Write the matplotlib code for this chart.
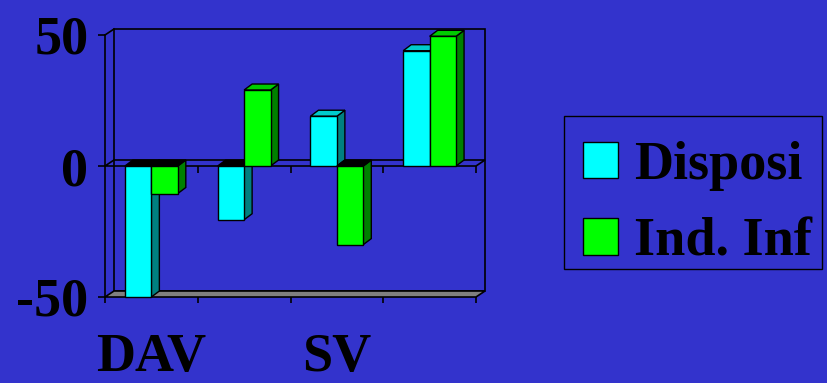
import matplotlib.pyplot as plt
from matplotlib.patches import Polygon, Patch, Rectangle

# data
categories = ['DAV', '', 'SV', '']
series_names = ['Disposi', 'Ind. Inf']
disposi = [-50, -20.5, 19, 44]
ind_inf = [-10.5, 29, -30, 49.5]
yticks = [-50, 0, 50]

bg = '#3333CC'
face_cols = ['#00FFFF', '#00FF00']
side_cols = ['#008080', '#008000']
top_cols = ['#00CCCC', '#00CC00']

plt.rcParams['font.family'] = ['Liberation Serif', 'DejaVu Serif']
plt.rcParams['font.weight'] = 'bold'
plt.rcParams['font.size'] = 39

W, H = 827, 383
fig = plt.figure(figsize=(W / 100, H / 100), dpi=100, facecolor=bg)
ax = fig.add_axes([105 / W, 86 / H, 371 / W, 262 / H])
ax.set_facecolor('none')
n = len(categories)
ax.set_xlim(0, n)
ax.set_ylim(-50, 50)
for s in ax.spines.values():
    s.set_visible(False)

# pixel -> data units, for the fake depth
px_x = n / 371
px_y = 100 / 262
wdx, wdy = 9 * px_x, 6 * px_y
bdx, bdy = 8 * px_x, 6 * px_y
lw = 1.2

# walls, floor and zero plane
ax.add_patch(Polygon([(wdx, -50 + wdy), (n + wdx, -50 + wdy), (n + wdx, 50 + wdy), (wdx, 50 + wdy)],
                     closed=True, fill=False, edgecolor='black', lw=lw, clip_on=False, zorder=1))
ax.add_patch(Polygon([(0, -50), (n, -50), (n + wdx, -50 + wdy), (wdx, -50 + wdy)],
                     closed=True, facecolor='#808080', edgecolor='black', lw=lw, clip_on=False, zorder=1))
ax.add_patch(Polygon([(0, 0), (n, 0), (n + wdx, wdy), (wdx, wdy)],
                     closed=True, fill=False, edgecolor='black', lw=lw, clip_on=False, zorder=1))
ax.plot([0, 0], [-50, 50], color='black', lw=lw, clip_on=False, zorder=1)
ax.plot([0, wdx], [50, 50 + wdy], color='black', lw=lw, clip_on=False, zorder=1)
ax.vlines(range(1, n + 1), -7 * px_y, 0, color='black', lw=lw, clip_on=False, zorder=1)

# 3D-ish bars
bw = 0.285
z = 2
for i in range(n):
    for j, vals in enumerate([disposi, ind_inf]):
        v = vals[i]
        x0 = i + 0.5 - bw + j * bw
        ax.add_patch(Polygon([(x0 + bw, 0), (x0 + bw, v), (x0 + bw + bdx, v + bdy), (x0 + bw + bdx, bdy)],
                             closed=True, facecolor=side_cols[j], edgecolor='black', lw=1,
                             clip_on=False, zorder=z))
        t = max(v, 0)
        ax.add_patch(Polygon([(x0, t), (x0 + bw, t), (x0 + bw + bdx, t + bdy), (x0 + bdx, t + bdy)],
                             closed=True, facecolor=top_cols[j] if v > 0 else 'black', edgecolor='black',
                             lw=1, clip_on=False, zorder=z + 1))
        ax.bar(x0, v, width=bw, align='edge', color=face_cols[j], edgecolor='black', lw=1,
               zorder=z + 2, clip_on=False)
        z += 3

# ticks and labels
ax.set_yticks(yticks)
ax.set_yticklabels([str(t) for t in yticks])
ax.tick_params(axis='y', length=5, width=lw, pad=7, colors='black')
ax.set_xticks(range(n + 1))
ax.set_xticklabels([''] * (n + 1))
ax.tick_params(axis='x', which='major', length=4.5, width=lw)
ax.set_xticks([i + 0.5 for i in range(n)], minor=True)
ax.set_xticklabels(categories, minor=True)
ax.tick_params(axis='x', which='minor', length=0, pad=26)

# legend: frame drawn separately so its size matches
fig.patches.append(Rectangle((564 / W, 1 - 269 / H), 258 / W, 153 / H, transform=fig.transFigure,
                             fill=False, edgecolor='black', lw=1))
handles = [Patch(facecolor=c, edgecolor='black') for c in face_cols]
leg = fig.legend(handles, series_names, loc='upper left', bbox_to_anchor=(583 / W, 1 - 141 / H),
                 frameon=False, handlelength=0.65, handleheight=0.65, handletextpad=0.3,
                 borderpad=0, labelspacing=0.49, borderaxespad=0)

fig.savefig('out.png', dpi=100, facecolor=bg)
